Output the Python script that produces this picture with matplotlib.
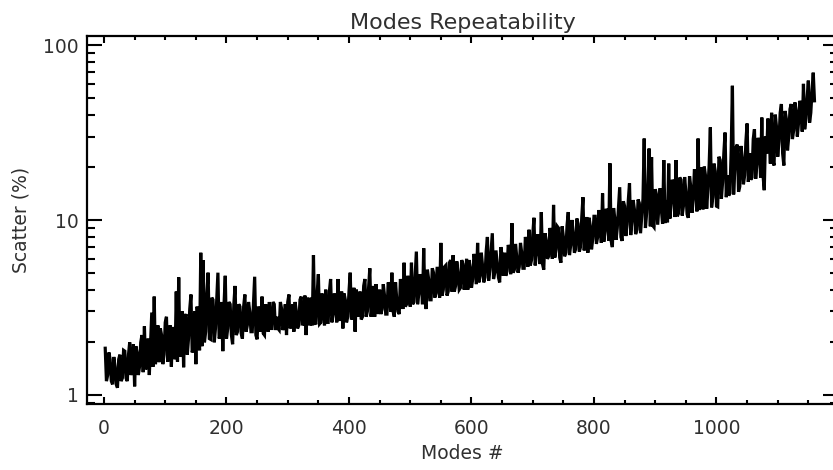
import numpy as np
import matplotlib
matplotlib.use('Agg')
import matplotlib.pyplot as plt
from matplotlib.ticker import MultipleLocator, LogLocator, NullFormatter, FixedLocator

# scatter (%), one value every 4 modes starting at mode 2
scatter_a = [
    1.85, 1.3, 1.6, 1.15, 1.45, 1.1, 1.7, 1.25, 1.78, 1.2,
    2.0, 1.4, 1.12, 1.75, 1.45, 2.2, 2.47, 1.5, 1.3, 2.96,
    3.65, 1.8, 1.54, 2.2, 1.7, 2.8, 1.9, 1.45, 2.4, 3.9,
    4.7, 2.0, 1.44, 2.9, 2.1, 3.75, 1.9, 1.5, 2.6, 6.5,
    5.9, 2.3, 5.0, 2.08, 3.5, 2.4, 5.0, 2.2, 1.78, 4.8,
    2.4, 3.3, 1.95, 4.2, 2.3, 3.2, 2.1, 3.75, 2.5, 3.0,
    2.3, 4.74, 2.08, 2.9, 3.65, 2.2, 2.8, 3.4, 2.4, 3.3,
    2.8, 2.35, 3.1, 2.5, 2.2, 3.75, 2.6, 2.3, 3.0, 2.5,
    3.65, 2.6, 2.2, 3.1, 3.6, 6.3, 2.53, 4.9, 2.6, 3.2,
    4.0, 2.6, 4.6, 2.9, 3.3, 4.6, 2.7, 2.4, 3.5, 2.8,
    5.0, 2.9, 2.3, 3.4, 3.9, 2.8, 4.6, 3.0, 5.3, 3.2,
    2.8, 3.6, 4.0, 3.1, 3.7, 2.9, 4.2, 5.0, 2.8, 3.5,
    2.9, 4.0, 5.7, 3.3, 4.1, 5.7, 3.4, 6.6, 3.8, 4.5,
    6.9, 3.1, 4.6, 3.5, 5.0, 3.8, 4.4, 7.4, 4.0, 5.5,
    3.9, 5.9, 6.3, 4.2, 5.0, 4.1, 5.6, 4.6, 4.0, 5.3,
    4.6, 5.8, 7.4, 4.8, 5.5, 4.7, 8.0, 5.2, 8.4, 5.0,
    5.6, 4.4, 6.2, 6.5, 5.1, 6.8, 9.6, 5.2, 6.0, 5.4,
    6.5, 5.3, 7.2, 8.8, 5.9, 10.3, 6.4, 7.0, 11.1, 5.2,
    7.6, 6.2, 8.3, 12.2, 6.8, 9.0, 5.7, 8.0, 6.5, 11.1,
    7.2, 8.4, 6.8, 9.5, 7.0, 13.5, 8.0, 6.5, 9.2, 7.8,
    10.5, 8.0, 9.4, 14.2, 8.6, 11.0, 21.1, 7.0, 10.2, 9.0,
    15.4, 7.6, 12.0, 9.4, 16.2, 10.0, 11.5, 8.8, 12.5, 10.5,
    29.2, 11.0, 25.6, 22.9, 9.1, 14.0, 12.0, 11.5, 22.0, 13.0,
    21.0, 12.5, 16.0, 22.0, 10.9, 17.0, 12.0, 14.5, 10.3, 15.5,
    13.0, 17.5, 29.2, 14.0, 11.5, 18.0, 15.0, 33.8, 13.5, 19.0,
    11.9, 22.0, 16.5, 31.6, 18.0, 14.2, 58.5, 20.0, 27.0, 15.5,
    22.5, 18.0, 35.6, 24.0, 17.5, 33.0, 21.0, 26.0, 38.5, 14.8,
    24.0, 30.0, 41.0, 20.5, 34.0, 28.0, 46.0, 20.5, 38.0, 30.0,
    46.0, 32.5, 42.0, 36.0, 45.0, 60.0, 38.0, 62.6, 41.0, 69.5,
]
# the in-between modes (4, 8, 12, ...), read the same way
scatter_b = [
    1.2, 1.75, 1.2, 1.65, 1.15, 1.6, 1.2, 1.8, 1.25, 1.7,
    1.3, 1.95, 1.9, 1.3, 2.0, 1.35, 1.4, 2.1, 2.0, 1.45,
    1.5, 2.5, 2.4, 1.5, 2.6, 1.55, 2.5, 2.4, 1.6, 1.55,
    1.65, 3.0, 2.8, 1.7, 3.1, 1.75, 3.0, 3.2, 1.8, 1.9,
    2.0, 3.8, 2.1, 3.6, 2.0, 3.5, 2.1, 3.4, 3.3, 2.1,
    3.4, 2.2, 3.3, 2.2, 3.3, 2.25, 3.2, 2.3, 3.4, 2.3,
    3.3, 2.2, 3.2, 2.3, 2.25, 3.3, 2.3, 2.4, 3.4, 2.35,
    2.4, 3.4, 2.35, 3.3, 3.4, 2.4, 3.3, 3.4, 2.4, 3.5,
    2.5, 3.7, 3.6, 2.5, 2.5, 2.6, 3.8, 2.55, 3.8, 2.5,
    2.6, 3.9, 2.6, 3.8, 2.6, 2.7, 3.9, 3.8, 2.6, 3.9,
    2.7, 4.1, 4.0, 2.8, 2.7, 4.2, 2.8, 4.1, 2.8, 4.2,
    4.3, 2.9, 2.9, 4.3, 2.9, 4.4, 3.0, 3.0, 4.4, 3.0,
    4.6, 3.1, 3.2, 4.8, 3.2, 3.3, 4.8, 3.3, 4.9, 3.3,
    3.5, 5.2, 3.5, 5.3, 3.6, 5.4, 3.6, 3.7, 5.4, 3.7,
    5.7, 3.9, 3.9, 5.8, 4.0, 5.9, 4.0, 6.0, 5.9, 4.1,
    6.4, 4.3, 4.4, 6.5, 4.4, 6.6, 4.5, 6.6, 4.6, 6.7,
    4.7, 7.0, 4.8, 4.8, 7.2, 4.9, 5.0, 7.3, 5.0, 7.4,
    5.3, 8.0, 5.4, 5.5, 8.2, 5.5, 8.3, 5.6, 5.6, 8.4,
    6.0, 9.0, 6.0, 6.1, 9.2, 6.1, 9.2, 6.2, 9.3, 6.3,
    10.0, 6.5, 10.2, 6.6, 10.3, 6.7, 10.4, 10.3, 6.8, 10.5,
    7.3, 11.4, 7.4, 7.5, 11.6, 7.6, 7.6, 11.7, 7.7, 11.8,
    8.0, 12.8, 8.1, 12.9, 8.2, 13.0, 8.3, 13.1, 8.4, 13.2,
    9.0, 14.8, 9.2, 9.3, 15.0, 9.4, 15.2, 9.5, 9.6, 9.7,
    10.2, 17.0, 10.4, 10.5, 17.5, 10.6, 17.6, 10.8, 17.8, 11.0,
    19.5, 11.2, 11.4, 20.0, 20.2, 11.6, 20.5, 11.8, 21.0, 12.0,
    23.0, 13.2, 24.0, 13.5, 13.8, 25.0, 14.0, 26.0, 14.5, 26.5,
    16.0, 28.0, 16.5, 17.0, 29.0, 17.2, 29.5, 17.5, 18.0, 30.0,
    38.0, 21.0, 22.0, 40.0, 23.0, 41.0, 24.0, 42.0, 25.0, 43.0,
    29.0, 47.0, 30.0, 48.0, 32.0, 33.0, 50.0, 36.0, 55.0, 48.0,
]

# interleave into one series, one value every 2 modes
scatter = np.column_stack([scatter_a, scatter_b]).ravel()
modes = 2 + 2 * np.arange(len(scatter))

x_ticks = [0, 200, 400, 600, 800, 1000]
y_ticks = [1, 10, 100]
y_labels = ['1', '10', '100']

plt.rcParams['font.family'] = ['DejaVu Sans']
text_col = '#303030'

fig = plt.figure(figsize=(8.33, 4.70), dpi=100)
# right spine sits just past the edge of the picture, like the original
ax = fig.add_axes([0.1044, 0.1404, 0.9016, 0.783])

ax.plot(modes, scatter, color='black', lw=2.3, solid_joinstyle='miter')

ax.set_yscale('log')
ax.set_xlim(-27.8, 1198.4)
ax.set_ylim(0.888, 112.6)

ax.xaxis.set_major_locator(FixedLocator(x_ticks))
ax.xaxis.set_minor_locator(MultipleLocator(50))
ax.yaxis.set_major_locator(FixedLocator(y_ticks))
ax.yaxis.set_minor_locator(LogLocator(base=10, subs=np.arange(2, 10)))
ax.yaxis.set_minor_formatter(NullFormatter())
ax.set_yticklabels(y_labels)

ax.tick_params(which='both', direction='in', top=True, right=True,
               width=1.5, colors='black', labelcolor=text_col, labelsize=13.5)
ax.tick_params(axis='x', which='major', length=5.2, pad=11)
ax.tick_params(axis='x', which='minor', length=3.2)
ax.tick_params(axis='y', which='major', length=10.5, pad=6)
ax.tick_params(axis='y', which='minor', length=5.5)

for s in ax.spines.values():
    s.set_linewidth(1.6)

ax.set_title('Modes Repeatability', fontsize=16, color=text_col, pad=5)
ax.set_xlabel('Modes #', fontsize=13.5, color=text_col, labelpad=4)
ax.set_ylabel('Scatter (%)', fontsize=13.5, color=text_col, labelpad=9)

fig.savefig('out.png', dpi=100)
